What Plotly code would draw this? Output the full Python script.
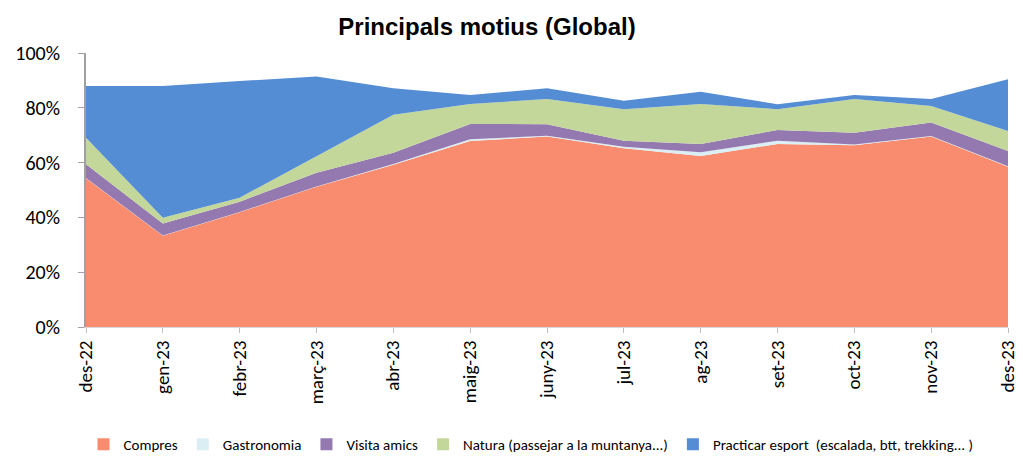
import plotly.graph_objects as go

months = ["des-22", "gen-23", "febr-23", "març-23", "abr-23", "maig-23", "juny-23",
          "jul-23", "ag-23", "set-23", "oct-23", "nov-23", "des-23"]
compres = [54.3, 33.3, 41.9, 51.2, 59.2, 67.9, 69.5, 65.2, 62.4, 66.8, 66.3, 69.5, 58.5]
gastronomia = [0.1, 0.1, 0.1, 0.1, 0.3, 0.6, 0.3, 0.6, 1.4, 1.2, 0.3, 0.2, 0.2]
visita_amics = [5.0, 4.4, 3.7, 5.0, 4.1, 5.6, 4.2, 2.2, 3.0, 3.9, 4.3, 4.9, 5.5]
natura = [9.7, 2.1, 1.5, 6.1, 13.9, 7.3, 9.2, 11.5, 14.6, 7.6, 12.3, 6.1, 7.3]
esport = [18.9, 48.1, 42.6, 29.0, 9.6, 3.3, 3.9, 3.1, 4.5, 1.8, 1.5, 2.5, 18.9]

series = [
    ("Compres", compres, "#F98C6E"),
    ("Gastronomia", gastronomia, "#DAEEF3"),
    ("Visita amics", visita_amics, "#9479B0"),
    ("Natura (passejar a la muntanya...)", natura, "#C4D79B"),
    ("Practicar esport  (escalada, btt, trekking... )", esport, "#558DD5"),
]

x = list(range(len(months)))
fig = go.Figure()
for name, vals, col in series:
    fig.add_trace(go.Scatter(
        x=x, y=[v / 100 for v in vals], name=name, mode="lines",
        stackgroup="one", line=dict(width=0, color=col), fillcolor=col,
        showlegend=False,
    ))
# legend entries with square swatches
for name, vals, col in series:
    fig.add_trace(go.Scatter(
        x=[None], y=[None], name=name, mode="markers",
        marker=dict(symbol="square", size=12, color=col), showlegend=True,
    ))

W, H = 1023, 457
OFF = 8  # page body margin
font_fam = "Carlito, Lato, 'Open Sans', sans-serif"
fig.update_layout(
    width=W, height=H,
    margin=dict(l=86 - OFF, r=W - (1008 - OFF), t=53 - OFF, b=H - (327 - OFF), autoexpand=False),
    paper_bgcolor="white", plot_bgcolor="white",
    title=dict(text="<b>Principals motius (Global)</b>", x=(487 - OFF) / W, xanchor="center",
               y=1 - (27 - OFF) / H, yanchor="middle",
               font=dict(family="Liberation Sans, Arial, sans-serif", size=24, color="black")),
    font=dict(family=font_fam, color="black"),
    showlegend=True,
    legend=dict(orientation="h", xref="container", yref="container",
                x=(531 - OFF) / W, xanchor="center", y=1 - (428 - OFF) / H, yanchor="top",
                font=dict(family=font_fam, size=15, color="black"),
                itemwidth=30, tracegroupgap=0, traceorder="normal"),
)
fig.update_xaxes(
    range=[0, 12], tickmode="array", tickvals=x, ticktext=months, tickangle=-90,
    showgrid=False, zeroline=False, showline=True, linecolor="#D9D9D9", linewidth=1,
    ticks="outside", ticklen=5, tickcolor="#BFBFBF", automargin=False,
    tickfont=dict(family=font_fam, size=19, color="black"),
)
fig.update_yaxes(
    range=[0, 1], tickmode="array", tickvals=[0, 0.2, 0.4, 0.6, 0.8, 1.0],
    tickformat=".0%", showgrid=False, zeroline=False,
    showline=True, linecolor="#A0A0A0", linewidth=2, automargin=False,
    ticks="outside", ticklen=6, tickcolor="#A0A0A0", ticklabelstandoff=14,
    tickfont=dict(family=font_fam, size=20, color="black"),
)
fig.write_html("out.html")
